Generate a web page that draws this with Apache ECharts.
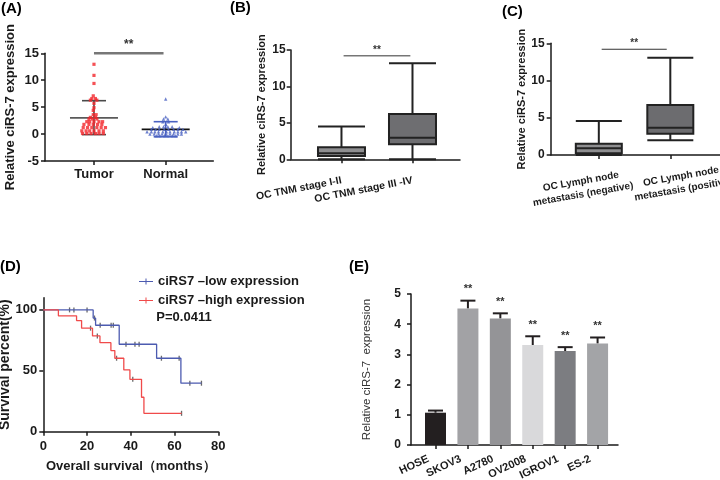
<!DOCTYPE html>
<html>
<head>
<meta charset="utf-8">
<script src="https://cdn.jsdelivr.net/npm/echarts@6.0.0/dist/echarts.min.js"></script>
<style>html,body{margin:0;padding:0;background:#fff;}#chart{width:720px;height:480px;}</style>
</head>
<body>
<div id="chart"></div>
<script>
// ---------- Panel A : scatter (Tumor vs Normal) ----------
const aCategories = ['Tumor', 'Normal'];
const aTumorValues = [12.96, 10.9, 9.4, 7.1, 6.6, 6.6, 6.3, 6.3, 5.7, 4.9, 4.4, 3.6, 3.6, 3.1, 3.1,
  2.8, 2.8, 2.8, 2.3, 2.3, 2.3, 2.3, 2.3, 1.8, 1.8, 1.8, 1.8, 1.8,
  1.2, 1.2, 1.2, 1.2, 1.2, 1.2, 0.6, 0.6, 0.6, 0.6, 0.6, 0.6, 0.1, 0.1, 0.1, 0.1, 0.1, 0.1];
const aTumorJitter = [0, 0, 0, -0.01, -0.03, 0.02, -0.05, 0.04, 0, 0, -0.01, -0.01, 0.03, -0.05, 0.02,
  -0.07, -0.02, 0.04, -0.10, -0.06, 0, 0.07, 0.12, -0.14, -0.07, -0.01, 0.05, 0.11,
  -0.15, -0.09, -0.03, 0.04, 0.10, 0.16, -0.17, -0.11, -0.06, 0, 0.07, 0.13, -0.16, -0.10, -0.04, 0.02, 0.07, 0.13];
const aNormalValues = [6.5, 3.2, 2.8, 2.8, 2.3, 2.3, 1.8, 1.35, 1.35, 1.35, 1.35, 1.2, 1.2,
  0.87, 0.87, 0.87, 0.87, 0.87, 0.87, 0.87, 0.87,
  0.43, 0.43, 0.43, 0.43, 0.43, 0.43, 0.43, 0.43, 0.43, 0.43, 0.43,
  0, 0, 0, 0, 0, 0, 0, 0, 0,
  -0.3, -0.3, -0.3, -0.3, -0.3, -0.3];
const aNormalJitter = [0, 0, -0.03, 0.03, -0.04, 0.04, 0, -0.09, -0.03, 0.03, 0.09, -0.18, 0.19,
  -0.2, -0.14, -0.09, -0.02, 0.04, 0.11, 0.17, 0.24,
  -0.26, -0.2, -0.15, -0.1, -0.04, 0.01, 0.06, 0.12, 0.17, 0.22, 0.28,
  -0.22, -0.16, -0.1, -0.05, 0, 0.06, 0.11, 0.17, 0.22,
  -0.13, -0.08, -0.02, 0.03, 0.09, 0.14];
const aMean = [3.0, 0.87];
const aSdLow = [-0.1, -0.5];
const aSdHigh = [6.2, 2.3];
const aSig = [[0, 0.97, 15, '**']];

// ---------- Panel B : boxplot by TNM stage ----------
const bCategories = ['OC TNM stage I-II', 'OC TNM stage III -IV'];
// [min, Q1, median, Q3, max]
const bBoxes = [[0, 0.45, 0.82, 1.65, 4.5], [0, 2.06, 2.96, 6.21, 13.17]];
const bSig = [[0.03, 0.97, 14.2, '**']];

// ---------- Panel C : boxplot by lymph node metastasis ----------
const cCategories = ['OC Lymph node\nmetastasis (negative)', 'OC Lymph node\nmetastasis (positive)'];
const cBoxes = [[0, 0.22, 0.9, 1.52, 4.56], [1.97, 2.87, 3.67, 6.71, 13.06]];
const cSig = [[0.04, 0.95, 14.2, '**']];

// ---------- Panel D : Kaplan-Meier ----------
const dLowName = 'ciRS7 \u2013low expression';
const dHighName = 'ciRS7 \u2013high expression';
const dLowTimes = [0, 22.8, 23.9, 34.7, 51.8, 62.9, 72.3];
const dLowSurv = [100, 93.3, 87.4, 71.8, 60.3, 39.8, 39.8];
const dHighTimes = [0, 6.9, 15.2, 17.5, 22.5, 25.9, 30.9, 32.7, 36.8, 39.6, 44.9, 46.0, 63.2];
const dHighSurv = [100, 95.1, 91.2, 85.0, 78.6, 73.1, 66.6, 60.3, 50.7, 43.0, 28.3, 15.1, 15.1];
const dLowCensorTimes = [12, 14, 20, 23.4, 26, 31, 32, 37.8, 41.9, 43.8, 54, 62.1, 67, 72.3];
const dLowCensorSurv = [100, 100, 100, 93.3, 87.4, 87.4, 87.4, 71.8, 71.8, 71.8, 60.3, 60.3, 39.8, 39.8];
const dHighCensorTimes = [21.6, 24.7, 33.5, 40.9, 63.2];
const dHighCensorSurv = [85.0, 78.6, 60.3, 43.0, 15.1];
const dPValue = 'P=0.0411';

// ---------- Panel E : cell lines ----------
const eCategories = ['HOSE', 'SKOV3', 'A2780', 'OV2008', 'IGROV1', 'ES-2'];
const eMeans = [1.07, 4.52, 4.19, 3.31, 3.11, 3.36];
const eErrors = [0.07, 0.26, 0.17, 0.29, 0.13, 0.20];
const eSig = ['', '**', '**', '**', '**', '**'];

// ---------- styles ----------
const FONT = 'Liberation Sans';
const INK = '#1a1a1a';
const eColors = ['#231f20', '#a2a2a5', '#949497', '#d9d9db', '#7c7d81', '#a3a4a7'];
const bColors = ['#8e8e90', '#6e6e71'];
const cColors = ['#8e8e90', '#6c6c6f'];
const aStatStyles = [{ mean: '#5a5a5a', sd: '#4a4a4a' }, { mean: '#111111', sd: '#4a62c2' }];

function merge(a, b) {
  const out = Array.isArray(a) ? a.slice() : Object.assign({}, a);
  for (const k in b) {
    if (b[k] && typeof b[k] === 'object' && !Array.isArray(b[k]) && typeof b[k] !== 'function' && a && typeof a[k] === 'object' && !Array.isArray(a[k])) {
      out[k] = merge(a[k], b[k]);
    } else out[k] = b[k];
  }
  return out;
}
function ax(grid, extra) {
  return merge({
    gridIndex: grid,
    splitLine: { show: false },
    axisLine: { onZero: false, lineStyle: { color: INK, width: 1.5 } },
    axisTick: { show: true, length: 4, lineStyle: { color: INK, width: 1.5 } },
    axisLabel: { color: INK, fontWeight: 'bold', fontFamily: FONT, fontSize: 13, showMinLabel: true, showMaxLabel: true, hideOverlap: false },
    nameTextStyle: { color: INK, fontWeight: 'bold', fontFamily: FONT, fontSize: 13 }
  }, extra);
}
function cLabelAxis(idx, showLine, pad) {
  return ax(2, { type: 'value', min: -0.673, max: 1.695, position: 'bottom',
    axisLine: { show: showLine },
    axisTick: { customValues: [idx] },
    axisLabel: { customValues: [idx], formatter: v => cCategories[Math.round(v)], rotate: 10, fontSize: 10, lineHeight: 13,
      align: 'center', verticalAlign: 'middle', margin: 30, padding: pad } });
}
function sigSeries(xi, yi, data, color, width, font, gap) {
  return {
    type: 'custom', xAxisIndex: xi, yAxisIndex: yi, silent: true,
    data: data.map(d => [d[0], d[1], d[2]]),
    encode: { x: [0, 1], y: 2 },
    renderItem: (params, api) => {
      const p0 = api.coord([api.value(0), api.value(2)]);
      const p1 = api.coord([api.value(1), api.value(2)]);
      return { type: 'group', children: [
        { type: 'line', shape: { x1: p0[0], y1: p0[1], x2: p1[0], y2: p1[1] }, style: { stroke: color, lineWidth: width } },
        { type: 'text', style: { text: data[params.dataIndex][3], x: (p0[0] + p1[0]) / 2, y: p0[1] - gap,
          align: 'center', verticalAlign: 'bottom', font: font, fill: '#333' } }
      ] };
    }
  };
}
const G = { outerBoundsMode: 'none', containLabel: false };

const option = {
  backgroundColor: '#fff',
  animation: false,
  textStyle: { fontFamily: FONT },
  grid: [
    Object.assign({ left: 45, top: 53.3, width: 168.3, height: 107.7 }, G),
    Object.assign({ left: 290.7, top: 50, width: 169.3, height: 109.3 }, G),
    Object.assign({ left: 550.7, top: 43.3, width: 169.3, height: 111.7 }, G),
    Object.assign({ left: 43.3, top: 297.7, width: 175, height: 134 }, G),
    Object.assign({ left: 411, top: 294, width: 207, height: 151 }, G)
  ],
  xAxis: [
    ax(0, { type: 'value', min: -0.683, max: 1.664,
      axisTick: { customValues: [0, 1] },
      axisLabel: { customValues: [0, 1], formatter: v => aCategories[Math.round(v)], margin: 7 } }),
    ax(1, { type: 'value', min: -0.715, max: 1.669,
      axisTick: { customValues: [0, 1] },
      axisLabel: { customValues: [0, 1], formatter: v => bCategories[Math.round(v)], rotate: 11, fontSize: 10.5, margin: 21 } }),
    cLabelAxis(0, true, [0, 34, 0, 0]),
    ax(3, { type: 'value', min: 0, max: 80, interval: 20,
      name: 'Overall survival\uff08months\uff09', nameLocation: 'middle', nameGap: 28,
      nameTextStyle: { fontSize: 13 } }),
    ax(4, { type: 'value', min: -0.756, max: 5.63,
      axisTick: { customValues: [0, 1, 2, 3, 4, 5] },
      axisLabel: { customValues: [0, 1, 2, 3, 4, 5], formatter: v => eCategories[Math.round(v)], rotate: 25, fontSize: 11, margin: 10,
        padding: [0, 8, 0, 0] } }),
    cLabelAxis(1, false, [0, 0, 0, 24])
  ],
  yAxis: [
    ax(0, { type: 'value', min: -5, max: 15, interval: 5,
      name: 'Relative ciRS-7 expression', nameLocation: 'middle', nameGap: 28, nameTextStyle: { fontSize: 13 },
      axisLabel: { margin: 6 } }),
    ax(1, { type: 'value', min: 0, max: 15, interval: 5,
      name: 'Relative ciRS-7 expression', nameLocation: 'middle', nameGap: 23, nameTextStyle: { fontSize: 11 },
      axisLabel: { fontSize: 12, margin: 5 } }),
    ax(2, { type: 'value', min: 0, max: 15, interval: 5,
      name: 'Relative ciRS-7 expression', nameLocation: 'middle', nameGap: 23, nameTextStyle: { fontSize: 11 },
      axisLabel: { fontSize: 12, margin: 6 } }),
    ax(3, { type: 'value', min: 0, max: 110,
      axisTick: { customValues: [0, 50, 100] },
      axisLabel: { customValues: [0, 50, 100], margin: 6 },
      name: 'Survival percent(%)', nameLocation: 'middle', nameGap: 28, nameTextStyle: { fontSize: 14 } }),
    ax(4, { type: 'value', min: 0, max: 5, interval: 1,
      name: 'Relative ciRS-7  expression', nameLocation: 'middle', nameGap: 38,
      nameTextStyle: { fontSize: 11.5, fontWeight: 'normal', color: '#333' },
      axisLabel: { fontSize: 12, margin: 10 } })
  ],
  legend: {
    orient: 'vertical', left: 134, top: 270, itemWidth: 14, itemHeight: 9, itemGap: 6,
    selectedMode: false,
    textStyle: { fontFamily: FONT, fontWeight: 'bold', fontSize: 13, color: INK },
    data: [
      { name: dLowName, icon: 'path://M0,4 L14,4 L14,5 L0,5 Z M6.5,1.5 L7.5,1.5 L7.5,7.5 L6.5,7.5 Z' },
      { name: dHighName, icon: 'path://M0,4 L14,4 L14,5 L0,5 Z M6.5,1.5 L7.5,1.5 L7.5,7.5 L6.5,7.5 Z' }
    ]
  },
  graphic: [
    { type: 'text', x: 1, y: 9, style: { text: '(A)', font: 'bold 15px ' + FONT, fill: '#000', verticalAlign: 'middle' } },
    { type: 'text', x: 230, y: 8, style: { text: '(B)', font: 'bold 15px ' + FONT, fill: '#000', verticalAlign: 'middle' } },
    { type: 'text', x: 502, y: 12, style: { text: '(C)', font: 'bold 15px ' + FONT, fill: '#000', verticalAlign: 'middle' } },
    { type: 'text', x: 0, y: 267, style: { text: '(D)', font: 'bold 15px ' + FONT, fill: '#000', verticalAlign: 'middle' } },
    { type: 'text', x: 349, y: 267, style: { text: '(E)', font: 'bold 15px ' + FONT, fill: '#000', verticalAlign: 'middle' } },
    { type: 'text', x: 184, y: 317, style: { text: dPValue, font: 'bold 13px ' + FONT, fill: INK, align: 'center', verticalAlign: 'middle' } }
  ],
  series: [
    // Panel A
    { type: 'scatter', xAxisIndex: 0, yAxisIndex: 0, symbol: 'rect', symbolSize: 3.2,
      itemStyle: { color: '#f2262a' },
      data: aTumorValues.map((v, i) => [0 + aTumorJitter[i], v]) },
    { type: 'scatter', xAxisIndex: 0, yAxisIndex: 0, symbol: 'triangle', symbolSize: 3.4,
      itemStyle: { color: '#4a62c2' },
      data: aNormalValues.map((v, i) => [1 + aNormalJitter[i], v]) },
    { type: 'custom', xAxisIndex: 0, yAxisIndex: 0, silent: true,
      data: aCategories.map((c, i) => [i, aMean[i], aSdLow[i], aSdHigh[i]]),
      renderItem: (params, api) => {
        const st = aStatStyles[params.dataIndex];
        const x = api.value(0);
        const m = api.coord([x, api.value(1)]);
        const lo = api.coord([x, api.value(2)]);
        const hi = api.coord([x, api.value(3)]);
        const ln = (x1, y1, x2, y2, c, w) => ({ type: 'line', shape: { x1, y1, x2, y2 }, style: { stroke: c, lineWidth: w } });
        return { type: 'group', children: [
          ln(lo[0], lo[1], hi[0], hi[1], st.sd, 1.6),
          ln(hi[0] - 12, hi[1], hi[0] + 12, hi[1], st.sd, 1.6),
          ln(lo[0] - 12, lo[1], lo[0] + 12, lo[1], st.sd, 1.6),
          ln(m[0] - 24, m[1], m[0] + 24, m[1], st.mean, 1.8)
        ] };
      } },
    sigSeries(0, 0, aSig, '#777', 2.5, 'bold 12px ' + FONT, 3),
    // Panel B
    { type: 'boxplot', xAxisIndex: 1, yAxisIndex: 1, boxWidth: [47, 47],
      itemStyle: { borderColor: '#222', borderWidth: 2 },
      data: bBoxes.map((b, i) => ({ value: [i].concat(b), itemStyle: { color: bColors[i], borderColor: '#222', borderWidth: 2 } })) },
    sigSeries(1, 1, bSig, '#333', 1, 'bold 10px ' + FONT, 1),
    // Panel C
    { type: 'boxplot', xAxisIndex: 2, yAxisIndex: 2, boxWidth: [46, 46],
      itemStyle: { borderColor: '#222', borderWidth: 2 },
      data: cBoxes.map((b, i) => ({ value: [i].concat(b), itemStyle: { color: cColors[i], borderColor: '#222', borderWidth: 2 } })) },
    sigSeries(2, 2, cSig, '#333', 1, 'bold 10px ' + FONT, 1),
    // Panel D
    { name: dLowName, type: 'line', xAxisIndex: 3, yAxisIndex: 3, step: 'end', showSymbol: false,
      itemStyle: { color: '#4c5bb0' }, lineStyle: { color: '#4c5bb0', width: 1.3 },
      data: dLowTimes.map((t, i) => [t, dLowSurv[i]]) },
    { name: dHighName, type: 'line', xAxisIndex: 3, yAxisIndex: 3, step: 'end', showSymbol: false,
      itemStyle: { color: '#f04a4a' }, lineStyle: { color: '#f04a4a', width: 1.3 },
      data: dHighTimes.map((t, i) => [t, dHighSurv[i]]) },
    { type: 'scatter', xAxisIndex: 3, yAxisIndex: 3, symbol: 'rect', symbolSize: [1.3, 5],
      itemStyle: { color: '#444' }, silent: true,
      data: dLowCensorTimes.map((t, i) => [t, dLowCensorSurv[i]]) },
    { type: 'scatter', xAxisIndex: 3, yAxisIndex: 3, symbol: 'rect', symbolSize: [1.3, 5],
      itemStyle: { color: '#444' }, silent: true,
      data: dHighCensorTimes.map((t, i) => [t, dHighCensorSurv[i]]) },
    // Panel E
    { type: 'bar', xAxisIndex: 4, yAxisIndex: 4, barWidth: 21,
      data: eMeans.map((v, i) => ({ value: [i, v], itemStyle: { color: eColors[i] } })) },
    { type: 'custom', xAxisIndex: 4, yAxisIndex: 4, silent: true,
      data: eMeans.map((v, i) => [i, v, v + eErrors[i]]),
      renderItem: (params, api) => {
        const b = api.coord([api.value(0), api.value(1)]);
        const t = api.coord([api.value(0), api.value(2)]);
        const st = { stroke: '#231f20', lineWidth: 2 };
        return { type: 'group', children: [
          { type: 'line', shape: { x1: b[0], y1: b[1], x2: t[0], y2: t[1] }, style: st },
          { type: 'line', shape: { x1: t[0] - 7.5, y1: t[1], x2: t[0] + 7.5, y2: t[1] }, style: st },
          { type: 'text', style: { text: eSig[params.dataIndex], x: t[0], y: t[1] - 6, align: 'center', verticalAlign: 'bottom',
            font: 'bold 11px ' + FONT, fill: '#333' } }
        ] };
      } }
  ]
};
const chart = echarts.init(document.getElementById('chart'), null, { renderer: 'canvas' });
chart.setOption(option);
</script>
</body>
</html>
